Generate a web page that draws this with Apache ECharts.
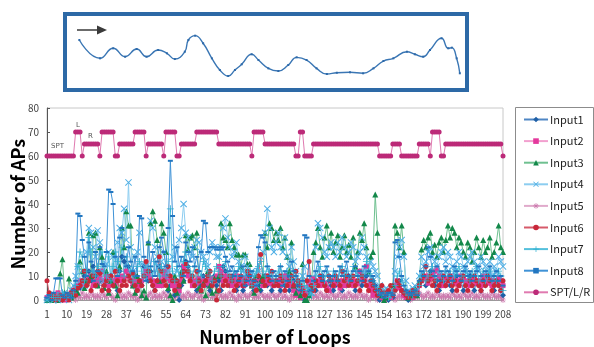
<!DOCTYPE html>
<html>
<head>
<meta charset="UTF-8">
<title></title>
<style>
  html, body { margin: 0; padding: 0; background: #fff; }
  #chart { width: 594px; height: 347px; }
</style>
<script src="https://cdn.jsdelivr.net/npm/echarts@6/dist/echarts.min.js"></script>
</head>
<body>
<div id="chart"></div>
<script>
// loop numbers 1..208 (category axis)
var loops = [];
for (var k = 1; k <= 208; k++) loops.push(String(k));

var yTicks = [0, 10, 20, 30, 40, 50, 60, 70, 80];

// SPT / L / R state line (60 = SPT, 65 = R, 70 = L)
var sptLR = [
  60,60,60,60,60,60,60,60,60,60,60,60,60,70,70,70,60,65,65,65,65,65,65,65,60,70,
  70,70,70,70,70,60,60,65,65,65,65,65,65,65,70,70,70,70,70,60,65,65,65,65,65,65,
  65,60,70,70,70,70,70,60,60,65,65,65,65,65,65,65,70,70,70,70,70,70,70,70,70,70,
  65,65,65,65,65,65,65,65,65,65,65,65,65,65,65,60,70,70,70,70,70,65,65,65,65,65,
  65,65,65,65,65,65,65,65,65,60,60,70,70,60,60,60,60,65,65,65,65,65,65,65,65,65,
  65,65,65,65,65,65,65,65,65,65,65,65,65,65,65,65,65,65,65,65,65,60,60,60,60,60,
  60,65,65,65,65,60,60,60,60,60,60,60,60,65,65,65,65,65,60,70,70,70,70,60,60,65,
  65,65,65,65,65,65,65,65,65,65,65,65,65,65,65,65,65,65,65,65,65,65,65,65,65,60
];

var input1 = [
  0,1,0,1,0,1,2,0,1,0,1,2,3,4,6,5,8,10,6,12,8,14,10,6,8,12,
  6,8,4,10,6,8,4,12,18,16,12,14,8,6,10,4,8,6,14,10,8,12,6,4,8,14,
  6,8,10,4,6,8,2,4,0,6,8,16,14,10,8,6,4,8,6,10,8,6,4,8,10,6,
  8,4,14,12,8,6,10,8,4,6,8,4,6,10,8,6,4,8,6,4,8,10,6,8,4,6,
  8,6,4,8,6,10,4,6,8,4,6,2,4,0,2,4,6,8,4,6,8,10,6,4,8,6,
  4,6,8,6,4,8,6,10,8,6,4,8,12,6,8,10,6,4,8,6,2,0,1,2,3,0,
  2,1,4,6,8,4,2,1,0,2,1,3,2,6,8,10,6,8,12,10,6,8,4,6,8,6,
  8,6,4,8,10,6,8,4,6,8,10,6,4,8,6,4,8,6,10,8,6,4,8,6,4,2
];

var input2 = [
  1,0,2,1,0,3,2,1,0,2,1,3,4,5,6,8,7,6,8,9,10,6,8,7,9,12,
  8,10,6,9,8,7,9,8,10,9,12,10,8,6,8,5,6,8,10,12,11,9,8,7,6,8,
  6,10,12,9,8,6,5,7,4,8,14,12,10,8,6,8,7,9,8,6,7,8,6,9,8,10,
  14,12,8,10,9,8,6,8,10,7,8,6,9,8,7,6,8,5,9,8,6,8,10,7,8,6,
  7,8,6,9,10,8,6,7,4,2,3,1,5,3,2,6,8,9,7,8,6,8,7,5,4,8,
  6,8,7,5,8,6,9,8,7,6,8,7,12,9,8,14,6,4,2,4,3,2,1,0,2,3,
  1,3,6,8,5,4,2,1,3,2,1,3,4,6,8,9,10,7,9,10,12,13,10,8,6,9,
  8,10,9,7,8,6,10,9,8,7,6,8,9,7,8,6,10,8,7,9,6,8,7,9,8,6
];

var input3 = [
  0,1,0,2,1,0,11,17,3,2,9,1,2,4,3,16,12,5,8,28,10,27,28,6,22,18,
  5,12,3,8,20,6,2,14,30,22,37,31,31,6,3,10,8,2,4,1,24,32,37,33,25,8,
  32,28,20,5,2,0,10,3,6,12,8,27,21,26,27,22,28,5,4,7,2,12,6,3,9,4,
  10,32,26,25,22,32,25,22,19,19,14,19,19,15,15,6,3,10,5,8,10,28,22,32,30,25,
  28,25,30,22,26,18,12,24,6,3,8,2,15,0,0,2,6,20,24,30,22,18,26,31,22,28,
  20,24,27,18,22,27,20,23,18,26,14,20,28,25,32,22,12,18,20,44,28,5,2,0,1,3,
  3,6,31,28,22,31,20,4,1,2,3,5,2,8,21,25,22,26,28,20,23,18,24,26,20,25,
  31,26,30,28,22,26,24,20,18,24,22,16,20,26,22,18,25,20,22,26,18,20,24,31,22,20
];

var input4 = [
  0,1,2,0,1,0,2,1,3,2,0,4,6,10,14,8,12,6,20,30,28,22,18,29,24,12,
  8,15,20,10,18,12,24,30,28,38,25,49,22,12,18,20,28,15,10,14,12,33,30,22,18,14,
  16,20,14,12,10,18,22,12,25,30,40,28,26,20,18,22,25,24,20,18,16,14,20,24,22,18,
  18,22,30,34,26,22,18,20,24,16,14,12,18,14,10,12,8,6,12,18,20,28,38,30,22,20,
  24,28,22,20,26,18,14,22,16,12,8,6,10,14,8,5,3,8,22,32,30,26,20,18,22,24,
  22,18,24,20,26,22,18,20,24,22,16,18,20,26,22,18,12,16,14,12,10,6,4,3,5,2,
  4,3,12,18,22,25,18,8,4,3,5,6,4,10,18,14,16,20,22,18,16,14,18,20,22,16,
  20,18,14,12,16,20,18,14,12,16,18,20,16,14,12,18,16,14,12,16,10,14,12,18,16,14
];

var input5 = [
  0,1,0,1,0,1,0,2,1,0,1,2,1,0,2,1,3,1,2,1,3,2,1,2,1,3,
  2,1,3,2,1,0,2,3,1,2,1,3,2,1,2,0,1,3,2,1,2,3,1,2,1,2,
  1,3,2,1,2,0,1,2,3,1,2,1,3,2,1,2,3,1,2,0,1,2,3,1,2,1,
  3,2,1,2,1,3,2,1,0,2,1,3,2,1,2,3,1,2,1,3,2,1,2,1,3,2,
  1,2,3,1,2,1,0,2,1,3,2,1,2,0,1,2,3,1,2,1,3,2,1,2,1,3,
  2,1,2,3,1,2,1,3,2,1,2,1,3,2,1,2,0,1,2,1,0,1,2,1,0,1,
  1,2,0,1,2,1,3,2,1,0,1,2,1,3,2,1,2,3,1,2,1,3,2,1,2,1,
  2,1,3,2,1,2,1,3,2,1,2,3,1,2,1,3,2,1,2,1,3,2,1,2,1,0
];

var input6 = [
  8,3,1,2,0,1,2,0,1,2,0,3,4,2,5,6,8,12,6,8,4,10,6,12,11,4,
  6,8,4,10,6,12,8,4,6,8,6,10,8,11,6,4,8,6,10,16,12,8,6,4,8,18,
  12,8,6,14,10,8,4,8,6,10,12,15,12,8,10,6,12,8,4,6,8,10,12,6,8,0,
  4,10,6,8,6,10,8,4,6,8,10,6,8,12,10,6,8,4,10,19,8,6,10,8,12,6,
  8,6,10,8,4,6,8,10,6,12,8,6,4,2,8,16,6,4,8,6,10,8,6,4,10,8,
  6,10,8,6,12,8,10,6,8,10,6,8,4,10,8,6,4,8,6,4,2,4,6,3,2,4,
  6,2,4,8,6,4,3,2,1,3,4,2,3,6,8,10,14,8,10,6,8,4,6,8,10,6,
  8,10,6,8,4,6,8,10,6,4,8,6,10,8,6,4,8,6,10,8,4,6,8,6,4,8
];

var input7 = [
  0,1,2,1,0,2,1,3,2,1,2,1,3,6,14,20,18,8,12,26,20,12,10,14,8,20,
  12,10,18,8,14,20,16,12,22,10,18,14,12,8,10,14,16,12,10,8,12,14,10,16,12,10,
  14,12,10,16,38,12,8,14,10,12,16,20,14,12,10,14,8,12,10,16,14,12,10,8,12,14,
  12,10,14,16,12,10,8,12,10,14,12,8,10,12,8,6,10,12,14,16,12,10,14,12,10,8,
  10,12,14,10,8,12,10,8,12,10,8,6,4,6,5,3,2,6,10,12,14,10,8,12,10,8,
  12,10,8,12,14,10,12,8,10,14,12,10,8,12,10,16,12,10,8,6,4,3,2,3,2,1,
  2,3,6,10,12,8,6,3,2,3,2,4,3,6,10,12,8,10,12,14,10,8,12,10,8,12,
  10,12,8,10,12,14,10,8,12,10,8,12,10,14,8,10,12,8,10,12,8,10,8,12,10,4
];

var input8 = [
  1,2,0,3,9,9,9,2,1,3,2,1,4,8,36,35,25,18,10,24,16,8,20,12,22,15,
  14,20,46,45,40,18,10,26,30,18,14,22,16,12,18,10,35,34,18,8,24,14,20,10,16,22,
  26,20,14,30,58,35,16,22,14,18,10,24,20,16,22,14,18,12,20,33,32,20,22,22,22,21,
  22,21,22,18,16,12,14,10,12,8,10,14,6,8,10,12,8,6,22,27,26,24,14,10,8,12,
  10,8,14,6,12,8,10,16,12,10,6,4,8,27,26,10,4,8,12,16,10,8,12,14,10,8,
  10,12,8,14,10,12,16,10,8,12,14,10,12,8,14,10,12,8,10,6,4,2,3,1,2,3,
  3,2,24,25,18,10,6,4,3,2,3,4,2,8,12,10,14,22,18,12,10,14,8,12,10,14,
  12,10,8,14,12,10,8,12,14,10,12,8,10,12,14,10,8,12,10,14,8,10,12,8,10,6
];

// inset track (0..100 across, 0..100 down)
var trackX = [3.1,8.3,11.6,14.6,17.5,20.0,22.9,25.1,27.1,29.6,30.5,32.2,34.2,36.4,38.4,40.5,42.2,43.9,46.4,48.1,
  50.6,53.1,55.6,57.7,60.2,62.7,65.3,67.8,71.1,74.4,77.0,79.5,82.0,85.4,87.4,89.5,91.2,94.1,95.8,96.7,97.9,98.7];
var trackY = [32.4,58.2,44.1,55.9,45.1,55.9,46.5,51.1,59.2,48.9,32.4,26.3,37.0,58.2,74.6,83.1,74.6,66.6,52.5,60.6,
  72.3,76.1,67.6,56.8,60.6,72.3,80.3,78.5,77.9,79.3,72.3,62.0,58.2,48.9,52.5,55.9,46.5,30.0,44.1,43.2,58.2,79.3];

var X_SYM = 'path://M0,1L1,0L5,4L9,0L10,1L6,5L10,9L9,10L5,6L1,10L0,9L4,5Z';
var PLUS_SYM = 'path://M4.4,0H5.6V4.4H10V5.6H5.6V10H4.4V5.6H0V4.4H4.4Z';
var STAR_SYM = 'path://M4.4,0H5.6V4.4H10V5.6H5.6V10H4.4V5.6H0V4.4H4.4ZM1,1.8L1.8,1L5,4.2L8.2,1L9,1.8L5.8,5L9,8.2L8.2,9L5,5.8L1.8,9L1,8.2L4.2,5Z';

var FONT = '"Noto Sans CJK JP", "DejaVu Sans", sans-serif';

function mkSeries(name, data, sym, size, color, lineColor, z) {
  return {
    name: name,
    type: 'line',
    data: data,
    symbol: sym,
    symbolSize: size,
    showAllSymbol: true,
    itemStyle: { color: color },
    lineStyle: { color: lineColor, width: 1 },
    z: z
  };
}

var track = trackX.map(function (v, i) { return [v, trackY[i]]; });

var series = [
  mkSeries('Input1', input1, 'diamond', 6, '#1f5fa6', '#4f86c4', 2),
  mkSeries('Input2', input2, 'rect', 5, '#e4389c', '#f2a0cf', 2),
  mkSeries('Input3', input3, 'triangle', 6, '#13884a', '#6fc090', 2),
  mkSeries('Input4', input4, X_SYM, 7, '#4eaee4', '#8ccdf0', 2),
  mkSeries('Input5', input5, STAR_SYM, 6, '#cc7aae', '#e0aacb', 1),
  mkSeries('Input6', input6, 'circle', 5, '#c8283a', '#d65a6a', 2),
  mkSeries('Input7', input7, PLUS_SYM, 7, '#2eb0d0', '#54c0dc', 2),
  mkSeries('Input8', input8, 'rect', [5, 2], '#2276c0', '#3f92d6', 2),
  mkSeries('SPT/L/R', sptLR, 'circle', 5, '#bc2a78', '#e07ab0', 3),
  {
    type: 'line',
    xAxisIndex: 1,
    yAxisIndex: 1,
    data: track,
    smooth: 0.5,
    symbol: 'rect',
    symbolSize: 2,
    itemStyle: { color: '#2e6aaa' },
    lineStyle: { color: '#3a76b4', width: 1.4 },
    silent: true
  }
];

var chart = echarts.init(document.getElementById('chart'), null, { renderer: 'canvas' });

chart.setOption({
  animation: false,
  backgroundColor: '#fff',
  textStyle: { fontFamily: FONT },
  grid: [
    { left: 47, top: 108, width: 456, height: 192, show: true, borderColor: '#c8c8c8', borderWidth: 1, outerBoundsMode: 'none', containLabel: false },
    { left: 67, top: 17, width: 398, height: 71, outerBoundsMode: 'none', containLabel: false }
  ],
  legend: {
    orient: 'vertical',
    left: 518,
    top: 107,
    itemWidth: 24,
    itemHeight: 7,
    itemGap: 6.6,
    data: ['Input1', 'Input2', 'Input3', 'Input4', 'Input5', 'Input6', 'Input7', 'Input8', 'SPT/L/R'],
    textStyle: { fontSize: 11, lineHeight: 15, color: '#222', fontFamily: FONT, padding: [0, 0, 0, -3] }
  },
  xAxis: [
    {
      type: 'category',
      data: loops,
      boundaryGap: false,
      name: 'Number of Loops',
      nameLocation: 'middle',
      nameGap: 28,
      nameMoveOverlap: false,
      nameTextStyle: { fontSize: 18, fontWeight: 'bold', color: '#000', fontFamily: FONT },
      axisLine: { lineStyle: { color: '#9a9a9a' } },
      axisTick: { interval: 0, inside: true, length: 3, lineStyle: { color: '#a8a8a8' } },
      axisLabel: { interval: 8, fontSize: 10, color: '#444', margin: 9 }
    },
    { gridIndex: 1, type: 'value', min: 0, max: 100, show: false }
  ],
  yAxis: [
    {
      type: 'value',
      min: 0,
      max: 80,
      interval: 10,
      name: 'Number of APs',
      nameLocation: 'middle',
      nameGap: 20,
      nameMoveOverlap: false,
      nameTextStyle: { fontSize: 18, fontWeight: 'bold', color: '#000', fontFamily: FONT },
      axisLine: { show: true, lineStyle: { color: '#555' } },
      axisTick: { show: true, inside: true, length: 3, lineStyle: { color: '#555' } },
      axisLabel: { fontSize: 10, color: '#444', margin: 8 },
      splitLine: { show: false }
    },
    { gridIndex: 1, type: 'value', min: 0, max: 100, inverse: true, show: false }
  ],
  graphic: [
    { type: 'rect', shape: { x: 65, y: 14, width: 402, height: 76 }, style: { fill: 'none', stroke: '#2d69a6', lineWidth: 4 } },
    { type: 'line', shape: { x1: 77, y1: 30, x2: 99, y2: 30 }, style: { stroke: '#3a3a3a', lineWidth: 1.5 } },
    { type: 'polygon', shape: { points: [[97, 25.5], [107, 30], [97, 34.5]] }, style: { fill: '#3a3a3a' } },
    { type: 'rect', shape: { x: 515.5, y: 107.5, width: 78, height: 195 }, style: { fill: 'none', stroke: '#8c8c8c', lineWidth: 1 } },
    { type: 'text', x: 51, y: 143, style: { text: 'SPT', font: '7px "DejaVu Sans"', fill: '#555' } },
    { type: 'text', x: 76, y: 122, style: { text: 'L', font: '7px "DejaVu Sans"', fill: '#555' } },
    { type: 'text', x: 88, y: 133, style: { text: 'R', font: '7px "DejaVu Sans"', fill: '#555' } }
  ],
  series: series
});
</script>
</body>
</html>
